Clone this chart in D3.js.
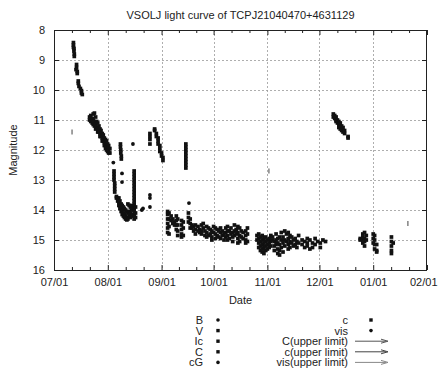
<!DOCTYPE html>
<html>
<head>
<meta charset="utf-8">
<script src="https://cdn.jsdelivr.net/npm/d3@7"></script>
<style>
  body { margin: 0; background: #fff; }
  svg text { font-family: "Liberation Sans", Arial, Helvetica, sans-serif; fill: #222; }
</style>
</head>
<body>
<svg id="chart" width="439" height="370"></svg>
<script>
// ---- data ------------------------------------------------------------
const titleText = "VSOLJ light curve of TCPJ21040470+4631129";
const monthTicks = ["2019-07-01", "2019-08-01", "2019-09-01", "2019-10-01",
                    "2019-11-01", "2019-12-01", "2020-01-01", "2020-02-01"];
const magTicks = [8, 9, 10, 11, 12, 13, 14, 15, 16];

// Observations: [days since 2019-07-01 UT, [magnitudes observed that day]]
const vRuns = [
  [11.2, [8.42, 8.5, 8.58]], [11.5, [8.62, 8.7]], [11.7, [8.8, 8.88]],
  [13.0, [9.15, 9.25]], [12.7, [9.32]], [13.4, [9.38, 9.45]],
  [14.0, [9.7, 9.78]], [14.4, [9.88]], [15.2, [9.95]], [15.8, [10.02, 10.1]], [16.3, [10.15]]
];

const cRuns = [
  // superoutburst plateau
  [20.5, [10.9, 11.0]], [21.2, [10.85, 10.95, 11.05]], [22.0, [10.95, 11.1]],
  [22.6, [10.8, 11.0, 11.15]], [23.3, [10.77, 11.05, 11.2]], [24.0, [10.9, 11.15, 11.3]],
  [24.6, [11.05, 11.25]], [25.2, [11.1, 11.3, 11.4]], [25.9, [11.2, 11.4]],
  [26.5, [11.3, 11.45, 11.55]], [27.1, [11.35, 11.55]], [27.8, [11.45, 11.6, 11.7]],
  [28.4, [11.5, 11.7]], [29.0, [11.6, 11.75, 11.85]], [29.7, [11.65, 11.85, 11.95]],
  [30.3, [11.7, 11.9, 12.0]], [30.9, [11.8, 12.05]], [31.5, [11.85, 12.0, 12.1]],
  [32.2, [11.95, 12.1]],
  // rapid fading and first rebrightenings (August)
  [34.6, [12.7, 12.8, 12.9, 13.0]], [35.0, [13.1, 13.2, 13.3, 13.4]],
  [38.3, [11.8, 11.9]], [38.5, [12.0, 12.1]], [38.8, [12.2, 12.3]],
  [36.0, [13.55, 13.6]], [36.7, [13.6, 13.7]], [37.4, [13.6, 13.75, 13.85]],
  [38.0, [13.7, 13.85, 13.95]], [38.7, [13.8, 13.95, 14.05]], [39.3, [13.85, 14.0, 14.15]],
  [40.0, [13.9, 14.1, 14.2]], [40.6, [13.95, 14.15, 14.25]], [41.3, [14.0, 14.2, 14.3]],
  [42.0, [14.05, 14.25, 14.33]], [42.6, [13.8, 14.1, 14.3]], [43.3, [13.85, 14.05, 14.2]],
  [44.0, [13.9, 14.1, 14.25]], [44.6, [13.85, 14.0, 14.2]], [45.3, [13.95, 14.15]],
  [46.2, [12.7, 12.8, 12.9, 13.0, 13.1, 13.2, 13.3, 13.4, 13.5, 13.6, 13.7, 13.8, 13.9, 14.0, 14.1, 14.2, 14.3]],
  [47.0, [13.9, 14.1, 14.25]],
  [55.3, [11.45, 11.55, 11.65, 11.8]], [58.0, [11.3, 11.35]], [59.0, [11.45, 11.55]],
  [60.0, [11.6, 11.7, 11.8]], [61.0, [11.85, 11.95, 12.05]], [62.0, [12.1, 12.2]],
  [62.8, [12.25, 12.35]],
  // September
  [65.5, [14.05, 14.15, 14.3, 14.45, 14.6, 14.75]], [66.3, [14.1, 14.3, 14.55, 14.8]],
  [67.5, [14.2, 14.35]], [68.5, [14.3, 14.45]], [69.5, [14.4, 14.5]],
  [70.5, [14.2, 14.35, 14.5, 14.65]], [71.3, [14.3, 14.5, 14.7, 14.85]],
  [73.5, [14.35, 14.5, 14.65, 14.8, 14.9]], [74.5, [14.4, 14.6, 14.85]],
  [76.0, [11.8, 11.9, 12.0, 12.1, 12.2, 12.3, 12.4, 12.5, 12.6]],
  [77.5, [14.1, 14.25, 14.4]], [78.5, [14.3, 14.45, 14.6]], [79.5, [14.5, 14.6]],
  [80.5, [14.55, 14.7]], [81.5, [14.5, 14.65, 14.8]],
  [83.0, [14.55, 14.7]], [84.0, [14.65, 14.75]], [85.0, [14.5, 14.7, 14.8]],
  [86.0, [14.45, 14.6]], [87.0, [14.7, 14.85]], [88.0, [14.55, 14.75, 14.9]],
  [89.0, [14.6, 14.85]],
  // October
  [90.0, [14.65, 14.8]], [91.0, [14.7, 14.9, 15.0]], [92.0, [14.55, 14.75]],
  [93.0, [14.6, 14.8, 14.95]], [94.0, [14.65, 14.85]], [95.0, [14.7, 14.9]],
  [96.0, [14.6, 14.75, 14.95]], [97.0, [14.7, 14.85]], [98.0, [14.8, 15.0]],
  [99.0, [14.6, 14.75, 14.9]], [100.0, [14.55, 14.7, 14.85, 15.0]], [101.0, [14.7, 14.95]],
  [102.0, [14.6, 14.8]], [103.0, [14.75, 14.9, 15.05]], [104.0, [14.5, 14.7, 14.85]],
  [105.0, [14.65, 14.8]], [106.0, [14.55, 14.75, 14.95, 15.1]], [107.0, [14.6, 14.85, 15.05]],
  [108.0, [14.7, 14.9]], [109.0, [14.75, 14.95]],
  [110.5, [14.7, 14.85, 15.0, 15.1]], [111.5, [14.6, 14.8, 15.05]],
  // November
  [117.0, [14.85, 15.0]], [118.0, [14.8, 14.95, 15.1, 15.25]],
  [119.0, [14.9, 15.05, 15.2, 15.35]], [120.0, [14.85, 15.0, 15.15, 15.3, 15.4]],
  [121.0, [14.95, 15.1, 15.25, 15.45]], [122.0, [14.9, 15.05, 15.2, 15.35]],
  [123.0, [15.0, 15.15, 15.3]], [124.0, [14.95, 15.1, 15.25]], [125.0, [14.85, 15.05, 15.2]],
  [126.0, [14.9, 15.0]], [127.0, [15.05, 15.2, 15.35]], [128.0, [14.8, 15.0, 15.15]],
  [129.0, [14.95, 15.1, 15.3, 15.45]], [130.0, [14.9, 15.15, 15.35, 15.5]],
  [131.0, [14.75, 15.0, 15.25]], [132.0, [14.9, 15.1, 15.4]], [133.0, [14.7, 15.0, 15.2]],
  [134.0, [14.8, 15.05]], [135.0, [14.75, 14.95, 15.15, 15.3]], [136.0, [14.85, 15.05, 15.25]],
  [137.0, [14.9, 15.1]], [138.0, [15.0, 15.2]], [139.0, [14.95, 15.15]],
  [140.0, [15.05, 15.25]], [141.0, [14.85, 15.1]],
  [143.0, [15.0, 15.15]], [144.5, [15.05, 15.25]], [146.0, [14.95, 15.1, 15.2]],
  [147.5, [15.0, 15.3]], [149.0, [15.1, 15.25]], [150.5, [14.95, 15.15]],
  [152.0, [15.05]], [153.5, [15.1, 15.25]], [155.0, [15.0]], [156.5, [15.05]],
  // December rebrightening
  [161.0, [10.8, 10.9]], [161.8, [10.85, 10.95]], [162.6, [10.9, 11.0, 11.05]],
  [163.4, [11.0, 11.1]], [164.2, [11.05, 11.15, 11.25]], [165.0, [11.1, 11.2, 11.3]],
  [165.8, [11.2, 11.35]], [166.6, [11.25, 11.4]], [167.5, [11.35, 11.45]],
  [169.5, [11.55, 11.6]],
  // late December and January
  [176.5, [14.95, 15.0]], [178.0, [14.8, 14.9, 15.0, 15.1]],
  [179.0, [14.75, 14.95, 15.05, 15.2]], [180.0, [14.85, 15.0]],
  [184.0, [14.8, 14.95, 15.1]], [184.8, [14.85, 15.0, 15.15, 15.3]],
  [186.0, [15.15, 15.35, 15.4]],
  [194.5, [14.9, 15.05, 15.2, 15.35, 15.45]], [195.5, [15.1]]
];

// Visual estimates (dots)
const visPoints = [
  [34.2, 12.42], [39.2, 12.78], [39.2, 13.07], [45.5, 11.8],
  [50.6, 14.0], [51.3, 13.95], [55.3, 13.5], [55.3, 13.6], [55.3, 13.9],
  [77.8, 13.77]
];

// Upper limits (fainter than)
const visUpperLimits = [[10.4, 11.4], [123.9, 12.7], [204.0, 14.45]];

const legendLeft = ["B", "V", "Ic", "C", "cG"];
const legendLeftShapes = ["dot", "square", "square", "square", "dot"];
const legendRightPoints = ["c", "vis"];
const legendRightShapes = ["square", "dot"];
const legendRightLimits = ["C(upper limit)", "c(upper limit)", "vis(upper limit)"];
const legendLimitColors = ["#555", "#444", "#888"];

// ---- chart -----------------------------------------------------------
const W = 439, H = 370;
const margin = { top: 30, right: 12, bottom: 100, left: 54 };
const svg = d3.select("#chart");
const t0 = Date.UTC(2019, 6, 1);
const toDate = d => new Date(t0 + d * 864e5);
const parse = d3.utcParse("%Y-%m-%d");
const monthDates = monthTicks.map(parse);

const x = d3.scaleUtc()
  .domain([monthDates[0], monthDates[monthDates.length - 1]])
  .range([margin.left, W - margin.right]);
const y = d3.scaleLinear().domain([8, 16]).range([margin.top, H - margin.bottom]);
const [x0, x1] = x.range();
const [y0, y1] = y.range();

// grid
const grid = svg.append("g").attr("stroke", "#999").attr("stroke-width", 0.8)
  .attr("stroke-dasharray", "2,2");
grid.selectAll("line.v").data(monthDates.slice(1, -1)).join("line")
  .attr("x1", d => Math.round(x(d)) + 0.5).attr("x2", d => Math.round(x(d)) + 0.5)
  .attr("y1", y0).attr("y2", y1);
grid.selectAll("line.h").data(magTicks.slice(1, -1)).join("line")
  .attr("y1", d => Math.round(y(d)) + 0.5).attr("y2", d => Math.round(y(d)) + 0.5)
  .attr("x1", x0).attr("x2", x1);

// minor date ticks, three per month
const minorDates = [];
for (let i = 0; i < monthDates.length - 1; i++) {
  const a = +monthDates[i], b = +monthDates[i + 1];
  minorDates.push(new Date(a + (b - a) / 3), new Date(a + 2 * (b - a) / 3));
}
const fmt = d3.utcFormat("%m/%d");

const axB = svg.append("g").attr("transform", `translate(0,${y1})`)
  .call(d3.axisBottom(x).tickValues(monthDates).tickFormat(fmt).tickSize(-5).tickPadding(8));
const axT = svg.append("g").attr("transform", `translate(0,${y0})`)
  .call(d3.axisTop(x).tickValues(monthDates).tickFormat("").tickSize(-5));
const axL = svg.append("g").attr("transform", `translate(${x0},0)`)
  .call(d3.axisLeft(y).tickValues(magTicks).tickFormat(d3.format("d")).tickSize(-5).tickPadding(9));
const axR = svg.append("g").attr("transform", `translate(${x1},0)`)
  .call(d3.axisRight(y).tickValues(magTicks).tickFormat("").tickSize(-5));
const mB = svg.append("g").attr("transform", `translate(0,${y1})`)
  .call(d3.axisBottom(x).tickValues(minorDates).tickFormat("").tickSize(-3));
const mT = svg.append("g").attr("transform", `translate(0,${y0})`)
  .call(d3.axisTop(x).tickValues(minorDates).tickFormat("").tickSize(-3));
[axB, axT, axL, axR, mB, mT].forEach(g => {
  g.select(".domain").remove();
  g.selectAll("line").attr("stroke", "#222");
  g.selectAll("text").attr("font-size", 11).attr("fill", "#222")
    .style("font-family", '"Liberation Sans", Arial, sans-serif');
});
// keep the last date label inside the page
axB.selectAll(".tick text").filter((d, i, n) => i === n.length - 1)
  .attr("text-anchor", "end").attr("x", W - 2 - x1);

// frame
svg.append("rect").attr("x", x0 + 0.5).attr("y", y0 + 0.5)
  .attr("width", x1 - x0 - 1).attr("height", y1 - y0)
  .attr("fill", "none").attr("stroke", "#222").attr("stroke-width", 1);

// titles
svg.append("text").attr("x", (x0 + x1) / 2).attr("y", 19).attr("text-anchor", "middle")
  .attr("font-size", 11).text(titleText);
svg.append("text").attr("x", (x0 + x1) / 2).attr("y", 304).attr("text-anchor", "middle")
  .attr("font-size", 11).text("Date");
svg.append("text").attr("transform", `translate(17,${(y0 + y1) / 2}) rotate(-90)`)
  .attr("text-anchor", "middle").attr("font-size", 11).text("Magnitude");

// observations
const flat = runs => runs.flatMap(([d, mags]) => mags.map(m => [d, m]));
const SQ = 3.7;
const marks = svg.append("g").attr("fill", "#111");
marks.selectAll("rect.v").data(flat(vRuns)).join("rect")
  .attr("x", d => x(toDate(d[0])) - SQ / 2).attr("y", d => y(d[1]) - SQ / 2)
  .attr("width", SQ).attr("height", SQ);
marks.selectAll("rect.c").data(flat(cRuns)).join("rect")
  .attr("x", d => x(toDate(d[0])) - SQ / 2).attr("y", d => y(d[1]) - SQ / 2)
  .attr("width", SQ).attr("height", SQ);
marks.selectAll("circle.vis").data(visPoints).join("circle")
  .attr("cx", d => x(toDate(d[0]))).attr("cy", d => y(d[1])).attr("r", 1.9);
svg.append("g").attr("stroke", "#444").attr("stroke-width", 1)
  .selectAll("line").data(visUpperLimits).join("line")
  .attr("x1", d => x(toDate(d[0]))).attr("x2", d => x(toDate(d[0])))
  .attr("y1", d => y(d[1]) - 2.5).attr("y2", d => y(d[1]) + 2.5);

// legend
const rowY = i => 320 + i * 10.6;
const drawSymbol = (g, shape, cx, cy) => {
  if (shape === "square") g.append("rect").attr("x", cx - 1.7).attr("y", cy - 1.7)
    .attr("width", 3.4).attr("height", 3.4).attr("fill", "#111");
  else g.append("circle").attr("cx", cx).attr("cy", cy).attr("r", 1.8).attr("fill", "#111");
};
const leg = svg.append("g").attr("font-size", 11);
legendLeft.forEach((name, i) => {
  leg.append("text").attr("x", 203).attr("y", rowY(i) + 4).attr("text-anchor", "end").text(name);
  drawSymbol(leg, legendLeftShapes[i], 218, rowY(i));
});
legendRightPoints.forEach((name, i) => {
  leg.append("text").attr("x", 348).attr("y", rowY(i) + 4).attr("text-anchor", "end").text(name);
  drawSymbol(leg, legendRightShapes[i], 371, rowY(i));
});
legendRightLimits.forEach((name, j) => {
  const i = j + 2, cy = rowY(i), col = legendLimitColors[j];
  leg.append("text").attr("x", 348).attr("y", cy + 4).attr("text-anchor", "end").text(name);
  leg.append("line").attr("x1", 355).attr("x2", 386).attr("y1", cy).attr("y2", cy)
    .attr("stroke", col).attr("stroke-width", 1);
  leg.append("path").attr("d", `M381,${cy - 2}L388,${cy}L381,${cy + 2}`)
    .attr("fill", "none").attr("stroke", col).attr("stroke-width", 1);
});
</script>
</body>
</html>
